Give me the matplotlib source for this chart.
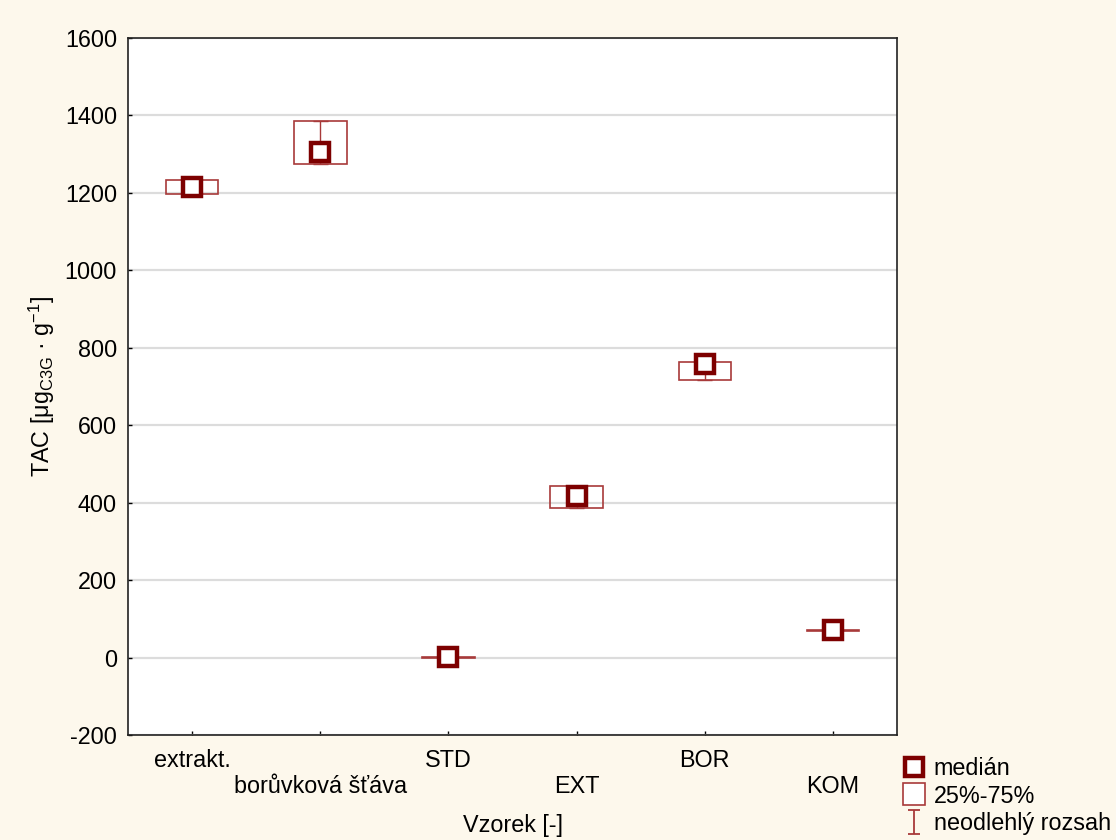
import numpy as np
import matplotlib.pyplot as plt
from matplotlib.lines import Line2D
from matplotlib.path import Path

plt.rcParams['font.family'] = ['Liberation Sans', 'DejaVu Sans']
plt.rcParams['axes.unicode_minus'] = False

categories = ['extrakt.', 'borůvková šťáva', 'STD', 'EXT', 'BOR', 'KOM']
median = [1216, 1306, 1, 416, 757, 70]
q1 = [1196, 1274, 0, 386, 716, 68]
q3 = [1232, 1386, 2, 442, 762, 72]
wlo = [1196, 1274, 0, 386, 716, 68]
whi = [1232, 1386, 2, 442, 762, 72]

dark = '#7d0000'
light = '#a83a3a'
bg = '#fdf8ec'
fs = 16.8

fig = plt.figure(figsize=(11.16, 8.4), dpi=100, facecolor=bg)
ax = fig.add_axes([0.1147, 0.125, 0.6891, 0.8298])
ax.set_facecolor('white')

x = np.arange(len(categories))
q1a = np.array(q1)
q3a = np.array(q3)

# boxes 25-75 %
ax.bar(x, q3a - q1a, bottom=q1a, width=0.41, fill=False,
       edgecolor=light, linewidth=1.2, zorder=3)
# whiskers (non-outlier range)
ax.vlines(x, wlo, whi, color=light, lw=1.0, zorder=3)
ax.hlines(wlo, x - 0.06, x + 0.06, color=light, lw=1.0, zorder=3)
ax.hlines(whi, x - 0.06, x + 0.06, color=light, lw=1.0, zorder=3)
# median
ax.plot(x, median, 's', ms=13, mfc='white', mec=dark, mew=3.2, zorder=4)

ax.set_xlim(-0.5, 5.5)
ax.set_ylim(-200, 1600)
ax.set_yticks(np.arange(-200, 1601, 200))
ax.set_xticks(x)
ax.set_xticklabels([c if i % 2 == 0 else '\n' + c for i, c in enumerate(categories)])
ax.tick_params(axis='both', direction='in', length=3, labelsize=fs, width=1)
ax.tick_params(axis='x', pad=10)
ax.tick_params(axis='y', pad=8)
ax.grid(axis='y', color='#dcdcdc', lw=1.6, zorder=0)
ax.set_axisbelow(True)
for s in ax.spines.values():
    s.set_linewidth(1.2)
    s.set_color('#222222')

ax.set_ylabel(r'TAC [μg$_{\mathregular{C3G}}$ · g$^{\mathregular{-1}}$]', fontsize=fs)
ax.yaxis.set_label_coords(-0.092, 0.5)
ax.set_xlabel('Vzorek [-]', fontsize=fs)
ax.xaxis.set_label_coords(0.5, -0.113)

# legend
ibeam = Path([(-0.5, 1), (0.5, 1), (0, 1), (0, -1), (-0.5, -1), (0.5, -1)],
             [Path.MOVETO, Path.LINETO, Path.MOVETO, Path.LINETO, Path.MOVETO, Path.LINETO])
handles = [
    Line2D([], [], ls='', marker='s', ms=13, mfc='white', mec=dark, mew=3.2),
    Line2D([], [], ls='', marker='s', ms=16, mfc='white', mec=light, mew=1.2),
    Line2D([], [], ls='', marker=ibeam, ms=17, mec=light, mew=1.3),
]
fig.legend(handles, ['medián', '25%-75%', 'neodlehlý rozsah'], loc='upper left',
           bbox_to_anchor=(0.8, 0.11), frameon=False, fontsize=fs,
           handlelength=1.0, handletextpad=0.35, labelspacing=0.2, borderaxespad=0)

fig.savefig('out.png', dpi=100, facecolor=bg)
